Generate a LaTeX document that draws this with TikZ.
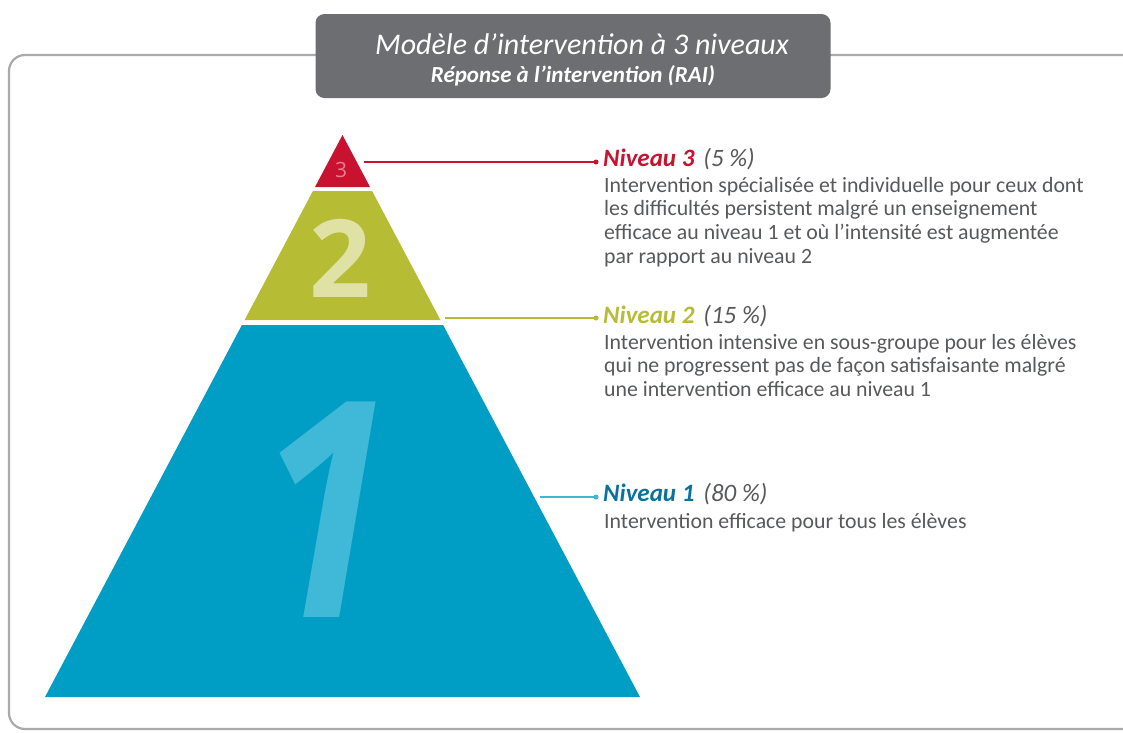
\documentclass[tikz,border=0pt]{standalone}
\usepackage{fontspec}
\usepackage{graphicx}
\setmainfont{Carlito}
\newfontfamily\numfont{Open Sans}
\definecolor{framegray}{RGB}{170,170,170}
\definecolor{titlegray}{RGB}{109,110,113}
\definecolor{txtgray}{RGB}{88,89,91}
\definecolor{tred}{RGB}{200,18,48}
\definecolor{tolive}{RGB}{182,188,52}
\definecolor{tblue}{RGB}{0,157,196}
\definecolor{tbluedark}{RGB}{10,115,155}
\definecolor{tbluelight}{RGB}{62,182,214}
\definecolor{num3}{RGB}{236,125,145}
\definecolor{num2}{RGB}{224,226,165}
\definecolor{num1}{RGB}{64,184,216}
\newcommand{\bodylines}[1]{\begin{tabular}[t]{@{}l@{}}#1\end{tabular}}
\tikzset{
  titlebox/.style={fill=titlegray, rounded corners=9pt, minimum width=515pt, minimum height=84pt, inner sep=0pt, text=white, align=center},
  head/.style={anchor=base west, inner sep=0pt, font=\fontsize{25}{28}\selectfont},
  body/.style={anchor=base west, inner sep=0pt, text=txtgray, font=\fontsize{21.8}{23.8}\selectfont},
  leader/.style={line width=1.4pt},
  dotc/.style={circle, inner sep=0pt, minimum size=5pt}
}
\begin{document}
\begin{tikzpicture}[x=1pt,y=-1pt]
\useasboundingbox (0,0) rectangle (1123,732);
\clip (0,0) rectangle (1123,732);
\fill[white] (0,0) rectangle (1123,732);
% frame
\draw[framegray, line width=2.2pt, rounded corners=16pt] (9,55) rectangle (1160,729);
% title box and its two lines
\node[titlebox] (title) at (573,56) {};
\node[text=white, inner sep=0pt, font=\fontsize{30}{34}\selectfont\itshape] (t1) at (582,44) {Modèle d’intervention à 3 niveaux};
\node[text=white, inner sep=0pt, font=\fontsize{23}{26}\selectfont\itshape\bfseries] (t2) at (573,76) {Réponse à l’intervention (RAI)};
% pyramid
\fill[tred] (342.5,135) -- (370,187) -- (315,187) -- cycle;
\fill[tolive] (312.9,191) -- (372.1,191) -- (440.4,320) -- (244.6,320) -- cycle;
\fill[tblue] (241.9,325) -- (443.1,325) -- (640,697) -- (45,697) -- cycle;
\node[text=num3, font=\numfont\fontsize{21}{21}\selectfont] (p3) at (341,170) {3};
\node[text=num2, font=\numfont\bfseries\fontsize{108}{108}\selectfont] (p2) at (340,258) {2};
\node[text=num1, font=\numfont\bfseries\itshape\fontsize{302}{302}\selectfont] (p1) at (325,510) {\scalebox{0.8}[1]{1}};
% leaders
\coordinate (l3s) at (364,162);
\coordinate (l2s) at (445,318);
\coordinate (l1s) at (540,497);
\node[dotc, fill=tred] (d3) at (596,162) {};
\node[dotc, fill=tolive] (d2) at (596,318) {};
\node[dotc, fill=tbluelight] (d1) at (596,497) {};
\draw[leader, tred] (l3s) -- (d3.center);
\draw[leader, tolive] (l2s) -- (d2.center);
\draw[leader, tbluelight] (l1s) -- (d1.center);
% texts
\node[head] (h3) at (603,166) {\textcolor{tred}{\bfseries\itshape Niveau 3}\hspace{9pt}\textcolor{txtgray}{\itshape (5 \%)}};
\node[body] (b3) at (604,192) {\bodylines{Intervention spécialisée et individuelle pour ceux dont\\les difficultés persistent malgré un enseignement\\efficace au niveau 1 et où l’intensité est augmentée\\par rapport au niveau 2}};
\node[head] (h2) at (603,323) {\textcolor{tolive}{\bfseries\itshape Niveau 2}\hspace{9pt}\textcolor{txtgray}{\itshape (15 \%)}};
\node[body] (b2) at (604,349) {\bodylines{Intervention intensive en sous-groupe pour les élèves\\qui ne progressent pas de façon satisfaisante malgré\\une intervention efficace au niveau 1}};
\node[head] (h1) at (603,501) {\textcolor{tbluedark}{\bfseries\itshape Niveau 1}\hspace{9pt}\textcolor{txtgray}{\itshape (80 \%)}};
\node[body] (b1) at (604,528) {\bodylines{Intervention efficace pour tous les élèves}};
\end{tikzpicture}
\end{document}
